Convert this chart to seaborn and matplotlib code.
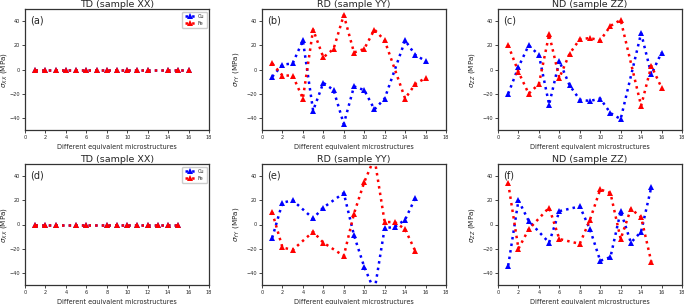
import pandas as pd
import seaborn as sns
import matplotlib
matplotlib.use("Agg")
import matplotlib.pyplot as plt

# microstructure indices for each row
x_top = [1, 2, 3, 4, 5, 6, 7, 8, 9, 10, 11, 12, 14, 15, 16]
x_bot = [1, 2, 3, 5, 6, 8, 9, 10, 11, 12, 13, 14, 15]

# (a) TD sample XX
a_cu = [0] * 15
a_fe = [0] * 15
# (b) RD sample YY
b_cu = [-6, 4, 5, 24, -34, -11, -17, -45, -14, -17, -33, -24, 24, 12, 7]
b_fe = [5, -5, -5, -24, 33, 10, 17, 45, 14, 17, 33, 24, -24, -12, -7]
# (c) ND sample ZZ
c_cu = [-20, 2, 20, 12, -29, 7, -13, -25, -26, -24, -36, -41, 30, -4, 14]
c_fe = [20, -2, -20, -12, 29, -7, 13, 25, 26, 24, 36, 41, -30, 3, -15]
# (d) TD sample XX
d_cu = [0] * 13
d_fe = [0] * 13
# (e) RD sample YY
e_cu = [-11, 18, 20, 5, 14, 26, -9, -35, -55, -3, -2, 4, 22]
e_fe = [10, -19, -21, -6, -15, -26, 9, 35, 55, 2, 2, -4, -22]
# (f) ND sample ZZ
f_cu = [-34, 20, 3, -15, 11, 15, -4, -30, -27, 11, -15, -6, 31]
f_fe = [34, -20, -4, 14, -12, -16, 4, 29, 26, -12, 13, 6, -31]

titles = ["TD (sample XX)", "RD (sample YY)", "ND (sample ZZ)"]
ylabels = [r"$\sigma_{XX}$ (MPa)", r"$\sigma_{YY}$ (MPa)", r"$\sigma_{ZZ}$ (MPa)"]
letters = ["(a)", "(b)", "(c)", "(d)", "(e)", "(f)"]


def make_df(x, cu, fe):
    df_cu = pd.DataFrame({"x": x, "stress": cu, "metal": "Cu"})
    df_fe = pd.DataFrame({"x": x, "stress": fe, "metal": "Fe"})
    return pd.concat([df_cu, df_fe], ignore_index=True)


panels = [
    make_df(x_top, a_cu, a_fe), make_df(x_top, b_cu, b_fe), make_df(x_top, c_cu, c_fe),
    make_df(x_bot, d_cu, d_fe), make_df(x_bot, e_cu, e_fe), make_df(x_bot, f_cu, f_fe),
]

sns.set_style("ticks")
plt.rcParams["font.family"] = ["DejaVu Sans"]

fig = plt.figure(figsize=(6.85, 3.04), dpi=100)
lefts = [25 / 685, 262 / 685, 498 / 685]
bottoms = [1 - 130 / 304, 1 - 285 / 304]
w = 184 / 685
h = 121 / 304

for i, df in enumerate(panels):
    row, col = divmod(i, 3)
    ax = fig.add_axes([lefts[col], bottoms[row], w, h])
    sns.lineplot(data=df, x="x", y="stress", hue="metal",
                 palette={"Cu": "blue", "Fe": "red"},
                 estimator=None, sort=True, marker="^", linestyle=":",
                 linewidth=1.8, markersize=5, markeredgewidth=0,
                 legend=(col == 0), ax=ax)
    ax.set_xlim(0, 18)
    ax.set_ylim(-50, 50)
    ax.set_xticks(range(0, 19, 2))
    ax.set_yticks([-40, -20, 0, 20, 40])
    ax.tick_params(labelsize=3.6, length=2.2, width=0.6, pad=1.2)
    ax.set_title(titles[col], fontsize=6.8, pad=1)
    ax.set_xlabel("Different equivalent microstructures", fontsize=4.7)
    ax.set_ylabel(ylabels[col], fontsize=5.2)
    ax.xaxis.set_label_coords(0.5, -0.112)
    ax.yaxis.set_label_coords(-0.085 if col == 0 else -0.112, 0.5)
    ax.text(0.027, 0.95, letters[i], transform=ax.transAxes, fontsize=7, va="top")
    for s in ax.spines.values():
        s.set_linewidth(0.9)
        s.set_color("#333333")
    if col == 0:
        ax.legend(loc="upper right", fontsize=3.6, handlelength=2,
                  borderpad=0.5, labelspacing=0.35, handletextpad=0.6,
                  borderaxespad=0.5, markerscale=0.8, framealpha=1)

fig.savefig("out.png", dpi=100)
